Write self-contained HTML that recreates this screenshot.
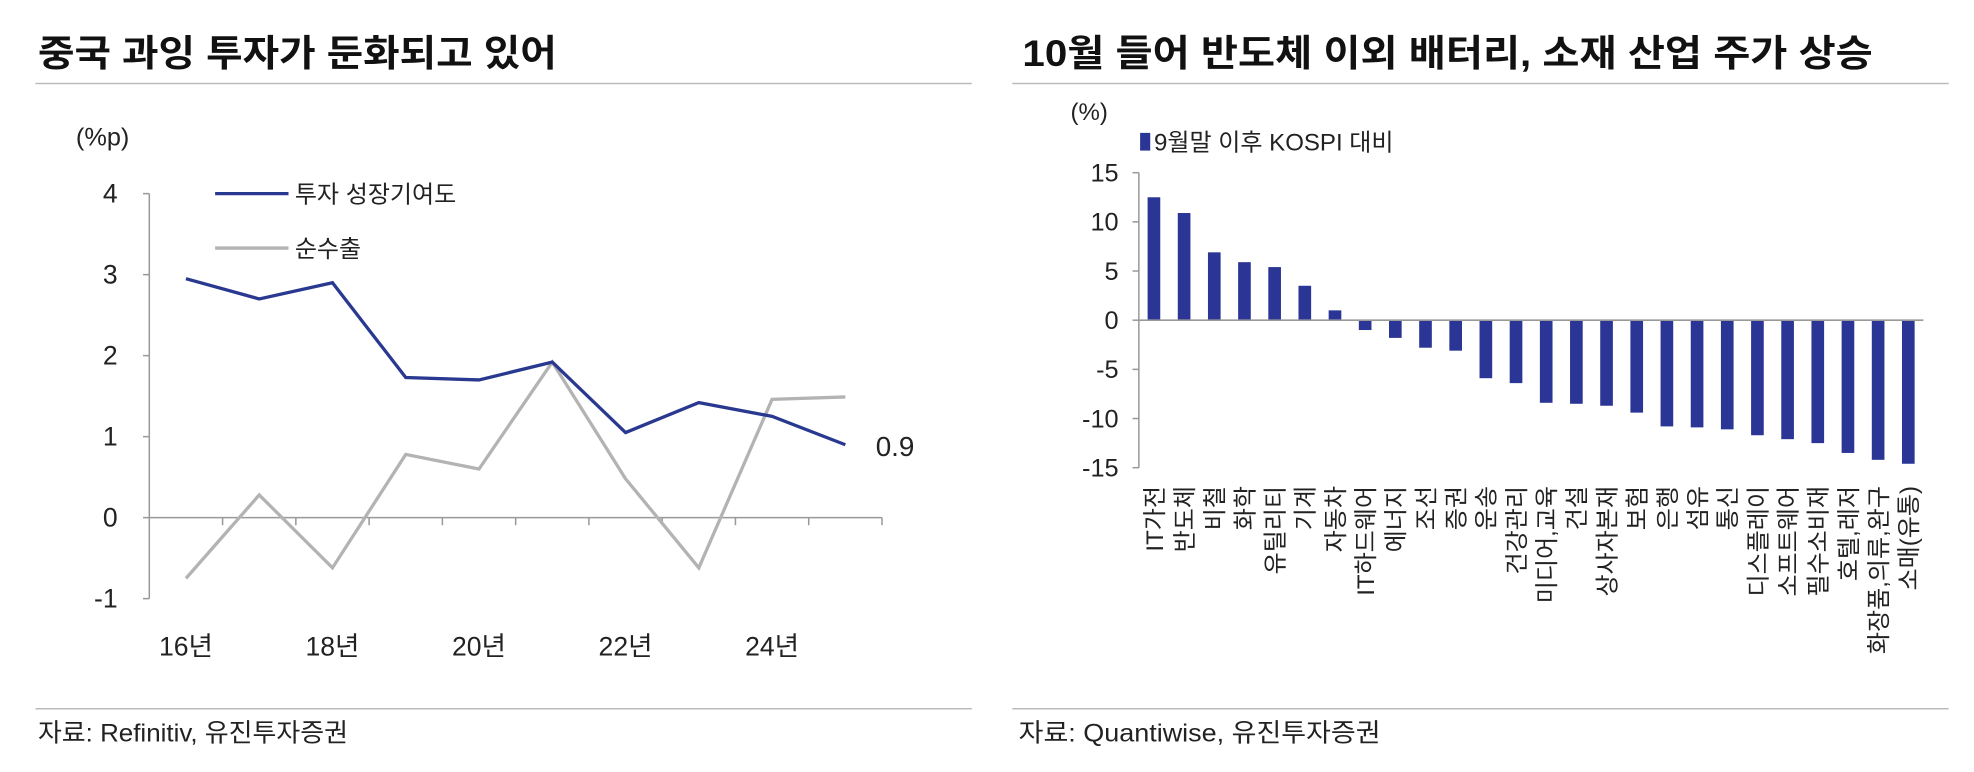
<!DOCTYPE html>
<html><head><meta charset="utf-8">
<style>
html,body{margin:0;padding:0;background:#fff;}
svg{display:block;font-family:"Liberation Sans","Noto Sans CJK KR",sans-serif;}
</style></head>
<body>
<svg id="root" width="1974" height="772" viewBox="0 0 1560 610" preserveAspectRatio="none" xmlns="http://www.w3.org/2000/svg">
  <!-- Left panel -->
  <text x="30" y="52" font-size="29" font-weight="bold" fill="#111" textLength="410" lengthAdjust="spacingAndGlyphs">중국 과잉 투자가 둔화되고 있어</text>
  <line x1="28" y1="66" x2="768" y2="66" stroke="#bbb" stroke-width="1.2"/>
  <text x="60" y="115" font-size="20" fill="#222">(%p)</text>
  <g id="left"></g>
  <line x1="28" y1="560" x2="768" y2="560" stroke="#bbb" stroke-width="1.2"/>
  <text x="30" y="586" font-size="20" fill="#222" textLength="245" lengthAdjust="spacingAndGlyphs">자료: Refinitiv, 유진투자증권</text>

  <!-- Right panel -->
  <text x="808" y="52" font-size="29" font-weight="bold" fill="#111" textLength="672" lengthAdjust="spacingAndGlyphs">10월 들어 반도체 이외 배터리, 소재 산업 주가 상승</text>
  <line x1="800" y1="66" x2="1540" y2="66" stroke="#bbb" stroke-width="1.2"/>
  <text x="846" y="95" font-size="19" fill="#222">(%)</text>
  <rect x="901" y="105" width="8" height="14" fill="#2b3596"/>
  <text x="912" y="119" font-size="19" fill="#222">9월말 이후 KOSPI 대비</text>
  <g id="right"></g>
  <line x1="800" y1="560" x2="1540" y2="560" stroke="#bbb" stroke-width="1.2"/>
  <text x="805" y="586" font-size="20" fill="#222" textLength="286" lengthAdjust="spacingAndGlyphs">자료: Quantiwise, 유진투자증권</text>
</svg>
<script>
// Left chart data
const years = ['16','17','18','19','20','21','22','23','24','25'];
const invest = [2.95, 2.7, 2.9, 1.73, 1.7, 1.92, 1.05, 1.42, 1.25, 0.9];
const netExport = [-0.75, 0.28, -0.62, 0.78, 0.6, 1.92, 0.48, -0.62, 1.46, 1.49];
const leftTicks = [4, 3, 2, 1, 0, -1];
const leftXLabels = ['16년','','18년','','20년','','22년','','24년',''];

// Right chart data
const sectors = ['IT가전','반도체','비철','화학','유틸리티','기계','자동차','IT하드웨어','에너지','조선','증권','운송','건강관리','미디어,교육','건설','상사자본재','보험','은행','섬유','통신','디스플레이','소프트웨어','필수소비재','호텔,레저','화장품,의류,완구','소매(유통)'];
const relReturn = [12.5, 10.9, 6.9, 5.9, 5.4, 3.5, 1.0, -1.0, -1.8, -2.8, -3.1, -5.9, -6.4, -8.4, -8.5, -8.7, -9.4, -10.8, -10.9, -11.1, -11.7, -12.1, -12.5, -13.5, -14.2, -14.6];
const rightTicks = [15, 10, 5, 0, -5, -10, -15];

const NS = 'http://www.w3.org/2000/svg';
function mk(tag, attrs, parent){const e=document.createElementNS(NS,tag);for(const k in attrs)e.setAttribute(k,attrs[k]);parent.appendChild(e);return e;}

// ---- Left line chart ----
(function(){
  const g = document.getElementById('left');
  const x0=118, x1=697, yTop=153, yBot=473;
  const yv = v => 409 - v*64;
  const band = (x1-x0)/years.length;
  const xc = i => x0 + band*(i+0.5);
  const ax = mk('line',{x1:x0,y1:yTop,x2:x0,y2:yBot,stroke:'#999','stroke-width':1.2},g);
  
  
  leftTicks.forEach(t=>{
    const tk=mk('line',{x1:x0-5,y1:yv(t),x2:x0,y2:yv(t),stroke:'#999','stroke-width':1.2},g);
    
    
    const tl=mk('text',{x:x0-25,y:yv(t)+7,'font-size':21,'text-anchor':'end',fill:'#222'},g);
    tl.textContent=t;
    
    
  });
  const xa=mk('line',{x1:x0,y1:yv(0),x2:x1,y2:yv(0),stroke:'#999','stroke-width':1.2},g);
  
  
  for(let i=1;i<=years.length;i++){
    const tk=mk('line',{x1:x0+band*i,y1:yv(0),x2:x0+band*i,y2:yv(0)+6,stroke:'#999','stroke-width':1.2},g);
    
    
  }
  leftXLabels.forEach((l,i)=>{ if(!l) return;
    const t=mk('text',{x:xc(i),y:518,'font-size':21,'text-anchor':'middle',fill:'#222'},g);
    t.textContent=l;
    
    
  });
  const p2=mk('polyline',{points:netExport.map((v,i)=>xc(i)+','+yv(v)).join(' '),fill:'none',stroke:'#b3b3b3','stroke-width':2.6},g);
  
  
  const p1=mk('polyline',{points:invest.map((v,i)=>xc(i)+','+yv(v)).join(' '),fill:'none',stroke:'#2a3990','stroke-width':2.6},g);
  
  
  const lbl=mk('text',{x:xc(years.length-1)+24,y:yv(invest[invest.length-1])+9,'font-size':22,fill:'#222'},g);
  lbl.textContent=invest[invest.length-1].toFixed(1);
  
  
  const l1=mk('line',{x1:170,y1:153,x2:228,y2:153,stroke:'#2a3990','stroke-width':2.6},g);
  
  
  const t1=mk('text',{x:233,y:160,'font-size':19,fill:'#222'},g);
  t1.textContent='투자 성장기여도';
  
  
  const l2=mk('line',{x1:170,y1:196,x2:228,y2:196,stroke:'#b3b3b3','stroke-width':2.6},g);
  
  
  const t2=mk('text',{x:233,y:203,'font-size':19,fill:'#222'},g);
  t2.textContent='순수출';
  
  
})();

// ---- Right bar chart ----
(function(){
  const g=document.getElementById('right');
  const x0=900, x1=1520;
  const yv = v => 253 - v*7.77;
  const band=(x1-x0)/sectors.length;
  const xc=i=>x0+band*(i+0.5);
  const ax=mk('line',{x1:x0,y1:yv(15),x2:x0,y2:yv(-15),stroke:'#999','stroke-width':1.2},g);
  
  
  rightTicks.forEach(t=>{
    const tk=mk('line',{x1:x0-5,y1:yv(t),x2:x0,y2:yv(t),stroke:'#999','stroke-width':1.2},g);
    
    
    const tl=mk('text',{x:x0-16,y:yv(t)+7,'font-size':20,'text-anchor':'end',fill:'#222'},g);
    tl.textContent=t;
    
    
  });
  relReturn.forEach((v,i)=>{
    const y=Math.min(yv(v),yv(0)), h=Math.abs(yv(v)-yv(0));
    const b=mk('rect',{x:xc(i)-5,y:y,width:10,height:h,fill:'#2b3596'},g);
    
    
  });
  const xa=mk('line',{x1:x0,y1:yv(0),x2:x1,y2:yv(0),stroke:'#999','stroke-width':1.2},g);
  
  
  sectors.forEach((s,i)=>{
    const x=xc(i)+7, y=384;
    const t=mk('text',{x:x,y:y,'font-size':19,'text-anchor':'end',fill:'#222',transform:'rotate(-90 '+x+' '+y+')'},g);
    t.textContent=s;
    
    
  });
})();
</script>
</body></html>
